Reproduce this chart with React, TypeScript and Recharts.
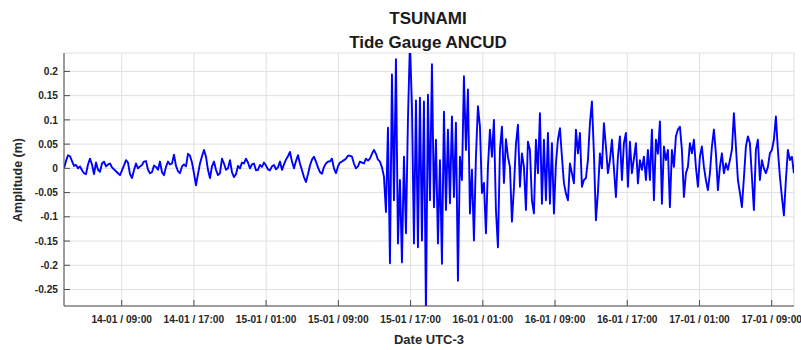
import { LineChart, Line, XAxis, YAxis, CartesianGrid } from 'recharts';

const FONT = '"Liberation Sans", Arial, Helvetica, sans-serif';

// time axis in hours after 14-01 00:00 (UTC-3)
const START_HOUR = 2.61;
const STEP_HOUR = 0.2215;
const X_DOMAIN = [2.61, 83.47];
const X_TICKS = [9, 17, 25, 33, 41, 49, 57, 65, 73, 81];
const X_TICK_LABELS = [
  '14-01 / 09:00', '14-01 / 17:00', '15-01 / 01:00', '15-01 / 09:00', '15-01 / 17:00',
  '16-01 / 01:00', '16-01 / 09:00', '16-01 / 17:00', '17-01 / 01:00', '17-01 / 09:00',
];

const Y_DOMAIN = [-0.284, 0.238];
const Y_TICKS = [-0.25, -0.2, -0.15, -0.1, -0.05, 0, 0.05, 0.1, 0.15, 0.2];

// sea level residual (m), before the tsunami arrives
const calm = [
  0.000, 0.015, 0.027, 0.025, 0.015, 0.005, 0.007, 0.000, 0.004, -0.004,
  -0.010, -0.012, 0.008, 0.020, 0.008, -0.012, 0.012, -0.003, -0.007, 0.010,
  0.014, 0.004, 0.008, 0.010, 0.002, -0.002, -0.006, -0.010, -0.014, -0.004,
  0.006, 0.017, 0.012, -0.012, -0.020, -0.004, 0.010, 0.000, 0.004, 0.007,
  0.014, 0.015, -0.003, -0.010, -0.008, 0.006, 0.003, -0.003, 0.014, -0.008,
  -0.014, 0.003, 0.014, 0.008, 0.010, 0.028, 0.005, -0.006, -0.010, 0.004,
  0.008, 0.004, 0.030, 0.026, 0.012, -0.010, -0.035, -0.012, 0.010, 0.025,
  0.038, 0.024, -0.003, -0.020, 0.004, 0.014, -0.003, -0.014, -0.010, 0.020,
  0.010, -0.003, 0.000, 0.017, -0.008, -0.018, -0.012, 0.005, 0.000, 0.012,
  0.010, 0.020, 0.012, 0.000, 0.008, 0.010, -0.004, -0.003, 0.007, 0.003,
  0.012, 0.006, -0.002, -0.004, 0.004, 0.007, -0.002, 0.002, 0.014, -0.003,
  0.008, 0.018, 0.025, 0.034, 0.014, 0.000, 0.015, 0.027, 0.010, -0.004,
  -0.018, -0.028, -0.012, 0.006, 0.018, 0.024, 0.014, 0.002, -0.008, -0.011,
  0.003, 0.010, 0.014, 0.014, 0.020, 0.000, -0.010, 0.004, 0.012, 0.014,
  0.017, 0.020, 0.026, 0.026, 0.024, 0.010, 0.000, 0.004, 0.014, 0.012,
  0.010, 0.020, 0.016, 0.020, 0.030, 0.038, 0.030, 0.018, 0.014, 0.002,
  -0.017,
];

// first hours of the tsunami
const arrival = [
  -0.090, 0.084, -0.196, 0.194, -0.066, 0.225, -0.155, -0.024, -0.194, 0.024,
  -0.134, 0.100, 0.260, 0.128, -0.155, 0.140, -0.163, 0.146, -0.149, 0.138,
  -0.300, 0.152, -0.066, 0.215, -0.080, 0.059, -0.155, 0.017, -0.197, 0.117,
  -0.086, 0.080, -0.072, 0.107, -0.059, 0.094, -0.232, 0.024, -0.024, 0.190,
  0.038, 0.163, -0.093, -0.003, -0.149, 0.024, 0.128, 0.086, -0.051, -0.030,
  -0.134, 0.003, 0.080, 0.024, 0.100, -0.086, -0.163, 0.038, 0.086, -0.030,
  0.060, 0.024, 0.003, -0.110, -0.040, 0.050, 0.090, -0.038, 0.031, 0.003,
];

// slow decay over 16-01 and 17-01
const decay = [
  -0.086, 0.055, 0.038, -0.066, -0.093, 0.059, -0.010, 0.114, -0.073, 0.059,
  -0.066, 0.073, -0.073, 0.052, -0.093, 0.010, 0.059, 0.083, 0.024, -0.030,
  -0.052, -0.066, 0.010, -0.010, -0.031, 0.080, 0.031, 0.073, -0.038, -0.024,
  -0.020, 0.017, 0.093, 0.138, 0.030, -0.107, -0.050, 0.031, 0.000, 0.093,
  0.045, -0.010, 0.017, 0.059, 0.000, -0.059, 0.024, 0.066, -0.024, 0.052,
  0.073, -0.038, 0.055, -0.010, 0.020, 0.052, -0.031, 0.017, -0.003, 0.024,
  -0.024, 0.038, -0.024, 0.080, -0.066, 0.059, 0.030, 0.097, -0.073, 0.045,
  0.017, 0.038, -0.080, 0.038, 0.003, 0.066, 0.080, 0.086, 0.038, -0.059,
  -0.010, 0.003, 0.052, 0.031, 0.059, 0.003, -0.038, 0.024, 0.045, 0.003,
  -0.024, -0.045, -0.010, 0.045, 0.080, 0.031, -0.045, 0.003, 0.031, -0.010,
  0.010, -0.003, 0.017, 0.038, 0.114, 0.045, -0.024, -0.050, -0.080, -0.020,
  0.045, 0.066, 0.052, -0.017, -0.086, 0.038, 0.059, -0.024, 0.017, 0.000,
  -0.010, 0.003, 0.031, 0.038, 0.059, 0.107, 0.038, -0.017, -0.059, -0.097,
  -0.024, 0.038, 0.017, 0.024, -0.010,
];

const amplitude = [...calm, ...arrival, ...decay];
const data = amplitude.map((v, i) => ({ t: START_HOUR + i * STEP_HOUR, v }));

const fmtX = (t: number) => {
  const idx = X_TICKS.indexOf(t);
  return idx >= 0 ? X_TICK_LABELS[idx] : '';
};

const axisColor = '#4d4d4d';
const tickFont = { fill: '#262626', fontSize: 10.2, fontWeight: 'bold', fontFamily: FONT };

export default function App() {
  return (
    <div style={{ position: 'absolute', left: 0, top: 0, width: 801, height: 350, background: '#fff' }}>
      <LineChart width={801} height={350} data={data} margin={{ top: 53, right: 7, bottom: 0, left: 0 }}>
        <CartesianGrid stroke="#e0e0e0" />
        <XAxis
          dataKey="t"
          type="number"
          domain={X_DOMAIN}
          ticks={X_TICKS}
          interval={0}
          allowDataOverflow
          tickFormatter={fmtX}
          height={44}
          tickSize={-6}
          tickMargin={16}
          axisLine={{ stroke: axisColor }}
          tickLine={{ stroke: axisColor }}
          tick={tickFont}
        />
        <XAxis
          xAxisId="top"
          orientation="top"
          dataKey="t"
          type="number"
          domain={X_DOMAIN}
          ticks={X_TICKS}
          interval={0}
          height={0}
          tickSize={-6}
          tick={false}
          axisLine={{ stroke: axisColor }}
          tickLine={{ stroke: axisColor }}
        />
        <YAxis
          type="number"
          domain={Y_DOMAIN}
          ticks={Y_TICKS}
          interval={0}
          allowDataOverflow
          width={64}
          tickSize={-6}
          tickMargin={12}
          axisLine={{ stroke: axisColor }}
          tickLine={{ stroke: axisColor }}
          tick={tickFont}
        />
        <YAxis
          yAxisId="right"
          orientation="right"
          type="number"
          domain={Y_DOMAIN}
          ticks={Y_TICKS}
          interval={0}
          width={0}
          tickSize={-6}
          tick={false}
          axisLine={{ stroke: axisColor }}
          tickLine={{ stroke: axisColor }}
        />
        <Line
          type="linear"
          dataKey="v"
          stroke="#0000ff"
          strokeWidth={1.9}
          strokeLinejoin="round"
          dot={false}
          activeDot={false}
          isAnimationActive={false}
        />
      </LineChart>
      <svg
        width={801}
        height={350}
        style={{ position: 'absolute', left: 0, top: 0, pointerEvents: 'none' }}
        fontFamily={FONT}
        fontWeight="bold"
        fill="#1a1a1a"
      >
        <text x={428} y={23.5} textAnchor="middle" fontSize={17}>TSUNAMI</text>
        <text x={428} y={48} textAnchor="middle" fontSize={17}>Tide Gauge ANCUD</text>
        <text x={429} y={344} textAnchor="middle" fontSize={13} fill="#262626">Date UTC-3</text>
        <text
          x={0}
          y={0}
          transform="translate(22,180) rotate(-90)"
          textAnchor="middle"
          fontSize={12.5}
          fill="#262626"
        >
          Amplitude (m)
        </text>
      </svg>
    </div>
  );
}
